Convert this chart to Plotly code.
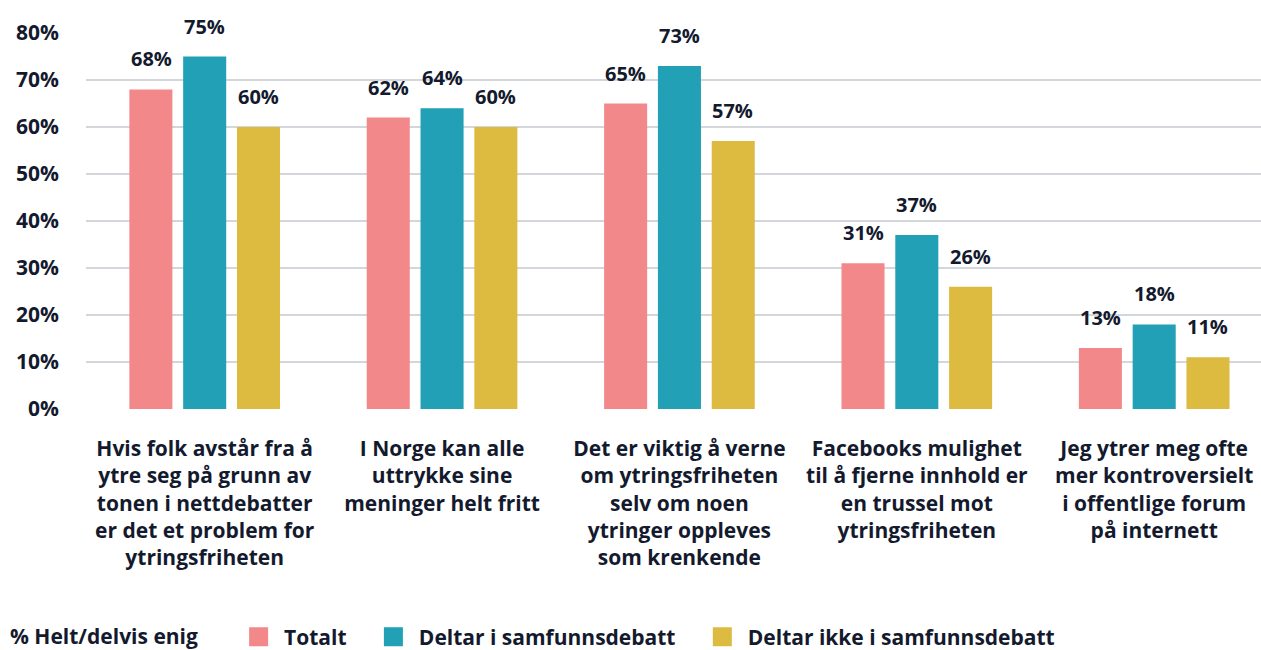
import plotly.graph_objects as go

categories = [
    "Hvis folk avstår fra å<br>ytre seg på grunn av<br>tonen i nettdebatter<br>er det et problem for<br>ytringsfriheten",
    "I Norge kan alle<br>uttrykke sine<br>meninger helt fritt",
    "Det er viktig å verne<br>om ytringsfriheten<br>selv om noen<br>ytringer oppleves<br>som krenkende",
    "Facebooks mulighet<br>til å fjerne innhold er<br>en trussel mot<br>ytringsfriheten",
    "Jeg ytrer meg ofte<br>mer kontroversielt<br>i offentlige forum<br>på internett",
]
series_names = ["Totalt", "Deltar i samfunnsdebatt", "Deltar ikke i samfunnsdebatt"]
totalt = [68, 62, 65, 31, 13]
deltar = [75, 64, 73, 37, 18]
deltar_ikke = [60, 60, 57, 26, 11]
colors = ["#F2888A", "#22A0B5", "#DDBA40"]
legend_title = "% Helt/delvis enig"
y_ticks = [0, 10, 20, 30, 40, 50, 60, 70, 80]

FONT = "Open Sans"
TXT = "#141A2E"

fig = go.Figure()
all_series = [totalt, deltar, deltar_ikke]
for name, vals, col in zip(series_names, all_series, colors):
    fig.add_trace(go.Bar(
        x=list(range(len(categories))), y=vals, name=name,
        marker=dict(color=col, line=dict(width=0)),
        hoverinfo="skip", showlegend=False,
    ))
# legend entries with large square swatches
for name, col in zip(series_names, colors):
    fig.add_trace(go.Scatter(
        x=[None], y=[None], mode="markers", name=" " + name + "    ",
        marker=dict(symbol="square", size=16, color=col, line=dict(color=col, width=3)),
        showlegend=True,
    ))

offsets = [-53.5, 0, 53.5]
for s, vals in enumerate(all_series):
    for i, v in enumerate(vals):
        fig.add_annotation(
            x=i, y=v, text=f"{v}%", showarrow=False,
            xshift=offsets[s], yshift=15, yanchor="bottom",
            font=dict(family=FONT, size=20, color=TXT, weight="bold"),
        )

fig.update_layout(
    width=1261, height=650,
    margin=dict(l=86, r=0, t=33, b=241),
    paper_bgcolor="white", plot_bgcolor="white",
    barmode="group", bargap=0.32, bargroupgap=0.2,
    font=dict(family=FONT, color=TXT, size=21, weight="bold"),
    showlegend=True,
    legend=dict(
        orientation="h", xref="container", yref="container",
        x=8 / 1261, y=0.02, xanchor="left", yanchor="middle",
        title=dict(text=legend_title + "      ", font=dict(family=FONT, size=21, color=TXT, weight="bold")),
        font=dict(family=FONT, size=21, color=TXT, weight="bold"),
        itemsizing="trace", itemwidth=30, tracegroupgap=0,
    ),
    xaxis=dict(
        tickmode="array", tickvals=list(range(len(categories))), ticktext=categories,
        range=[-0.5, 4.45], showgrid=False, zeroline=False, showline=False,
        ticks="", tickfont=dict(family=FONT, size=21, color=TXT, weight="bold"),
        ticklabelstandoff=25,
    ),
    yaxis=dict(
        range=[0, 80], tickmode="array", tickvals=y_ticks,
        ticktext=[f"{t}%" for t in y_ticks],
        showgrid=True, gridcolor="#D3D6DB", gridwidth=2,
        zeroline=False, showline=False, ticks="",
        tickfont=dict(family=FONT, size=21, color=TXT, weight="bold"),
        ticklabelstandoff=26,
    ),
)

fig.write_html("out.html", config={"displayModeBar": False},
               post_script="document.body.style.margin='0';")
